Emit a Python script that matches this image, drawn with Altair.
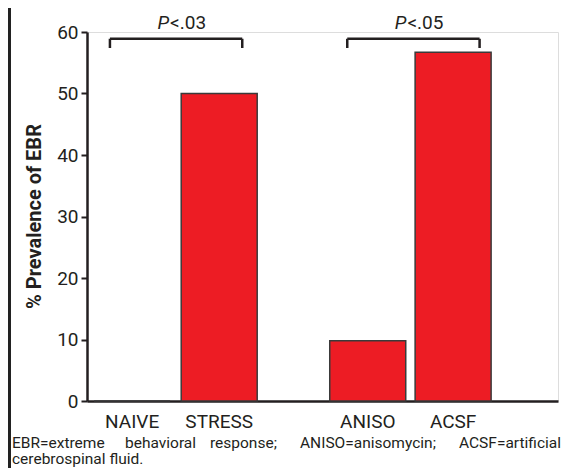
import altair as alt
import pandas as pd

# ---- data ----
groups = ["NAIVE", "STRESS", "ANISO", "ACSF"]
positions = [0.47, 1.49, 3.23, 4.23]
prevalence = [0, 50, 9.8, 56.7]

bracket_start = [0.21, 2.99]
bracket_end = [1.76, 4.54]
bracket_top = [58.9, 58.9]
bracket_leg = [57.4, 57.4]
p_labels = ["<.03", "<.05"]
p_label_y = [60.5, 60.5]

caption_line1 = ["EBR=extreme", "behavioral", "response;", "ANISO=anisomycin;", "ACSF=artificial"]
caption_line2 = "cerebrospinal fluid."

FONT = "Liberation Sans Narrow, Roboto, Liberation Sans, sans-serif"
RED = "#ed1c24"
INK = "#231f20"

df = pd.DataFrame({"group": groups, "pos": positions, "value": prevalence})
br = pd.DataFrame({
    "x1": bracket_start, "x2": bracket_end,
    "top": bracket_top, "leg": bracket_leg,
    "mid": [(a + b) / 2 for a, b in zip(bracket_start, bracket_end)],
    "label": p_labels, "ly": p_label_y,
})

xscale = alt.Scale(domain=[0, 5.4], nice=False, zero=False)
yscale = alt.Scale(domain=[0, 60], nice=False)

base = alt.Chart(df)

bars = base.mark_bar(size=76, color=RED, stroke="#3a3a3a", strokeWidth=1.5).encode(
    x=alt.X("pos:Q", scale=xscale,
            axis=alt.Axis(labels=False, ticks=False, grid=False, title=None,
                          domainColor=INK, domainWidth=2.5)),
    y=alt.Y("value:Q", scale=yscale,
            axis=alt.Axis(values=[0, 10, 20, 30, 40, 50, 60], title="% Prevalence of EBR",
                          grid=False, domainColor=INK, domainWidth=2.5,
                          tickColor=INK, tickWidth=2, tickSize=6,
                          labelFont=FONT, labelFontSize=19, labelColor=INK, labelPadding=3,
                          titleFont=FONT, titleFontSize=20, titleFontWeight="bold",
                          titleColor=INK, titlePadding=12, titleY=184)),
)

cat_labels = base.mark_text(font=FONT, fontSize=19, color=INK, baseline="alphabetic", dy=27).encode(
    x=alt.X("pos:Q", scale=xscale),
    y=alt.datum(0, scale=yscale),
    text="group:N",
)

bc = alt.Chart(br)
hline = bc.mark_rule(color=INK, strokeWidth=2.5).encode(
    x=alt.X("x1:Q", scale=xscale), x2="x2:Q",
    y=alt.Y("top:Q", scale=yscale),
)
leg_l = bc.mark_rule(color=INK, strokeWidth=2.5).encode(
    x=alt.X("x1:Q", scale=xscale),
    y=alt.Y("top:Q", scale=yscale), y2="leg:Q",
)
leg_r = bc.mark_rule(color=INK, strokeWidth=2.5).encode(
    x=alt.X("x2:Q", scale=xscale),
    y=alt.Y("top:Q", scale=yscale), y2="leg:Q",
)
p_italic = bc.mark_text(font=FONT, fontSize=19, fontStyle="italic", color=INK,
                        align="right", baseline="alphabetic", dx=-7).encode(
    x=alt.X("mid:Q", scale=xscale),
    y=alt.Y("ly:Q", scale=yscale),
    text=alt.value("P"),
)
p_rest = bc.mark_text(font=FONT, fontSize=19, color=INK,
                      align="left", baseline="alphabetic", dx=-6).encode(
    x=alt.X("mid:Q", scale=xscale),
    y=alt.Y("ly:Q", scale=yscale),
    text="label:N",
)

# caption (justified first line)
word_px = [-75, 38, 123, 213, 372]
CAP_SIZE = 15.5
cap1_layers = []
for w, px in zip(caption_line1, word_px):
    cap1_layers.append(
        alt.Chart(df).transform_filter("datum.group == 'NAIVE'").mark_text(
            font=FONT, fontSize=CAP_SIZE, color=INK, align="left", baseline="alphabetic"
        ).encode(x=alt.value(px), y=alt.value(416), text=alt.value(w))
    )
cap2 = alt.Chart(df).transform_filter("datum.group == 'NAIVE'").mark_text(
    font=FONT, fontSize=CAP_SIZE, color=INK, align="left", baseline="alphabetic"
).encode(x=alt.value(-75), y=alt.value(432), text=alt.value(caption_line2))

border = alt.Chart(df).transform_filter("datum.group == 'NAIVE'").mark_rule(
    color="#222", strokeWidth=3
).encode(x=alt.value(-77.5), y=alt.value(-24), y2=alt.value(436))

chart = alt.layer(
    bars, cat_labels, hline, leg_l, leg_r, p_italic, p_rest, *cap1_layers, cap2, border
).properties(
    width=471, height=369,
    autosize=alt.AutoSizeParams(type="none"),
    padding={"left": 79, "top": 24, "right": 9, "bottom": 67},
).configure_view(stroke=None).configure(background="white")

chart.save("out.html", embed_options={"renderer": "svg", "actions": False})
